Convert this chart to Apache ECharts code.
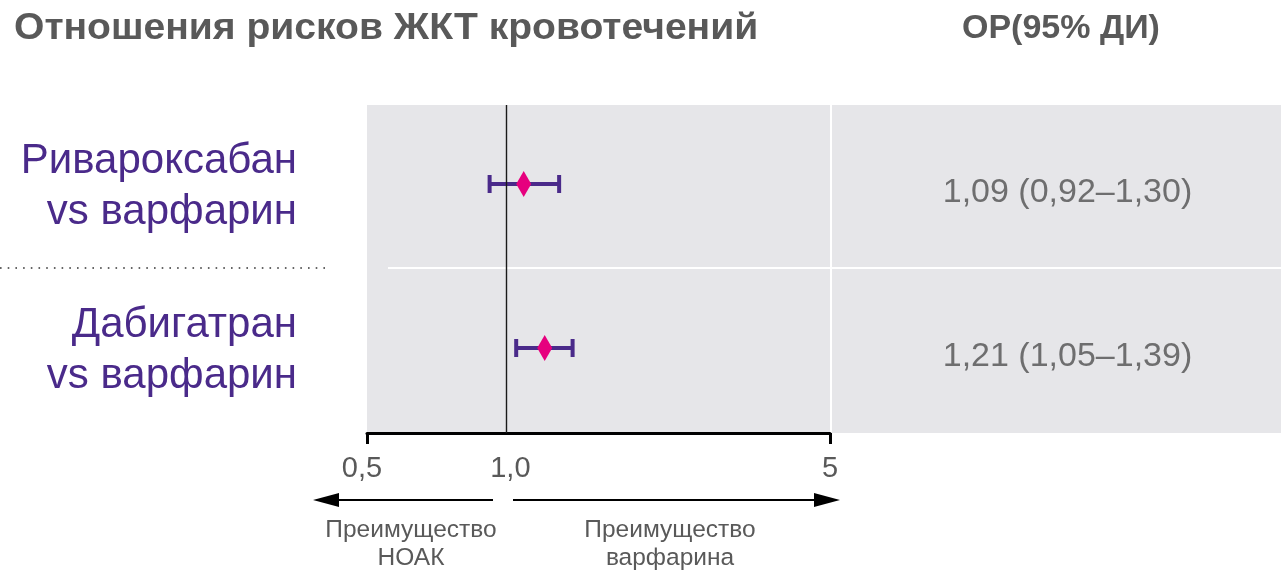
<!DOCTYPE html>
<html>
<head>
<meta charset="utf-8">
<script src="https://cdn.jsdelivr.net/npm/echarts@6/dist/echarts.min.js"></script>
<style>
  html, body { margin: 0; padding: 0; background: #ffffff; }
  #chart { width: 1281px; height: 571px; }
</style>
</head>
<body>
<div id="chart"></div>
<script>
// Forest plot data: hazard ratios of GI bleeding with 95% CI
const comparisons = ['Ривароксабан\nvs варфарин', 'Дабигатран\nvs варфарин'];
const hazardRatio = [1.09, 1.21];
const ciLower = [0.92, 1.05];
const ciUpper = [1.30, 1.39];
const tickValues = [0.5, 1, 5];
const tickLabels = ['0,5', '1,0', '5'];
const titleText = 'Отношения рисков ЖКТ кровотечений';
const columnTitle = 'ОР(95% ДИ)';
const favourLeft = 'Преимущество\nНОАК';
const favourRight = 'Преимущество\nварфарина';

const PURPLE = '#4a2a8a';
const PINK = '#e6007e';
const GREY_TEXT = '#595959';
const PANEL = '#e6e6e9';
const FONT = '"Liberation Sans", Arial, sans-serif';

const fmt = v => v.toFixed(2).replace('.', ',');

const chart = echarts.init(document.getElementById('chart'), null, { renderer: 'canvas' });

const ciData = comparisons.map((c, i) => [ciLower[i], ciUpper[i], i]);
const hrData = comparisons.map((c, i) => [hazardRatio[i], i]);
const textData = comparisons.map((c, i) => [0.5, i]);

// tick label styles nudge the outer labels slightly off their ticks
const tickRich = ['lft', 'mid', 'end'];

function arrow(x1, x2, y) {
  const dir = x2 > x1 ? 1 : -1;
  return [
    { type: 'line', shape: { x1: x1, y1: y, x2: x2 - dir * 20, y2: y },
      style: { stroke: '#000', lineWidth: 2 } },
    { type: 'polygon', shape: { points: [[x2, y], [x2 - dir * 26, y - 7], [x2 - dir * 26, y + 7]] },
      style: { fill: '#000' } }
  ];
}

const option = {
  animation: false,
  backgroundColor: '#ffffff',
  textStyle: { fontFamily: FONT },
  grid: [
    { left: 367, right: 451, top: 105, bottom: 138, show: true, backgroundColor: PANEL, borderWidth: 0 },
    { left: 832, right: 0, top: 105, bottom: 138, show: true, backgroundColor: PANEL, borderWidth: 0 }
  ],
  xAxis: [
    {
      type: 'log', logBase: 10, min: 0.5, max: 5, gridIndex: 0,
      axisLine: { show: true, lineStyle: { color: '#000', width: 3 } },
      axisTick: { show: true, customValues: [0.5, 5], length: 11, lineStyle: { color: '#000', width: 3 } },
      axisLabel: {
        margin: 21, fontSize: 29, color: GREY_TEXT,
        formatter: v => {
          const k = tickValues.findIndex(t => Math.abs(t - v) < 1e-6);
          return k >= 0 ? '{' + tickRich[k] + '|' + tickLabels[k] + '}' : '';
        },
        rich: {
          lft: { fontSize: 29, color: GREY_TEXT, padding: [0, 10, 0, 0] },
          mid: { fontSize: 29, color: GREY_TEXT, padding: [0, 0, 0, 8] },
          end: { fontSize: 29, color: GREY_TEXT }
        }
      },
      splitLine: { show: false },
      minorTick: { show: false }
    },
    { type: 'value', min: 0, max: 1, gridIndex: 1, show: false }
  ],
  yAxis: [
    {
      type: 'category', data: comparisons, inverse: true, gridIndex: 0,
      axisLine: { show: false }, axisTick: { show: false },
      axisLabel: { margin: 70, fontSize: 42, lineHeight: 51, color: PURPLE, align: 'right' },
      splitLine: { show: false }
    },
    { type: 'category', data: comparisons, inverse: true, gridIndex: 1, show: false }
  ],
  series: [
    {
      type: 'custom', xAxisIndex: 0, yAxisIndex: 0,
      dimensions: ['lo', 'hi', 'row'],
      data: ciData,
      encode: { x: ['lo', 'hi'], y: 'row' },
      renderItem: (params, api) => {
        const a = api.coord([api.value(0), api.value(2)]);
        const b = api.coord([api.value(1), api.value(2)]);
        const y = a[1] - 3;
        const h = 9;
        const st = { stroke: PURPLE, lineWidth: 4 };
        return {
          type: 'group',
          children: [
            { type: 'line', shape: { x1: a[0], y1: y, x2: b[0], y2: y }, style: st },
            { type: 'line', shape: { x1: a[0], y1: y - h, x2: a[0], y2: y + h }, style: st },
            { type: 'line', shape: { x1: b[0], y1: y - h, x2: b[0], y2: y + h }, style: st }
          ]
        };
      },
      z: 3
    },
    {
      type: 'scatter', xAxisIndex: 0, yAxisIndex: 0,
      data: hrData,
      symbol: 'diamond', symbolSize: [15, 26], symbolOffset: [0, -3],
      itemStyle: { color: PINK, opacity: 1 },
      markLine: {
        silent: true, symbol: 'none',
        label: { show: false },
        lineStyle: { color: '#1a1a1a', width: 1.4, type: 'solid' },
        data: [{ xAxis: 1 }]
      },
      z: 5
    },
    {
      type: 'scatter', xAxisIndex: 1, yAxisIndex: 1,
      data: textData,
      symbolSize: 0,
      label: {
        show: true, position: 'inside', offset: [11, 6],
        fontSize: 34, color: '#505050',
        formatter: p => fmt(hazardRatio[p.dataIndex]) + ' (' + fmt(ciLower[p.dataIndex]) + '–' + fmt(ciUpper[p.dataIndex]) + ')'
      }
    }
  ],
  graphic: [
    // headings
    { type: 'text', x: 14, y: 11, scaleX: 1.085,
      style: { text: titleText, font: 'bold 36px ' + FONT, fill: GREY_TEXT } },
    { type: 'text', x: 962, y: 12,
      style: { text: columnTitle, font: 'bold 34px ' + FONT, fill: GREY_TEXT } },
    // row separators
    { type: 'line', shape: { x1: 388, y1: 268, x2: 1281, y2: 268 }, style: { stroke: '#ffffff', lineWidth: 2 }, z: 2 },
    { type: 'line', shape: { x1: 0, y1: 268, x2: 326, y2: 268 }, style: { stroke: '#333', lineWidth: 1.6, lineDash: [1.6, 6.1] } },
    // direction arrows
    ...arrow(493, 313, 500),
    ...arrow(513, 840, 500),
    { type: 'text', x: 411, y: 516, style: { text: favourLeft, font: '24.5px ' + FONT, fill: GREY_TEXT, align: 'center', lineHeight: 28 } },
    { type: 'text', x: 670, y: 516, style: { text: favourRight, font: '24.5px ' + FONT, fill: GREY_TEXT, align: 'center', lineHeight: 28 } }
  ]
};

chart.setOption(option);
</script>
</body>
</html>
